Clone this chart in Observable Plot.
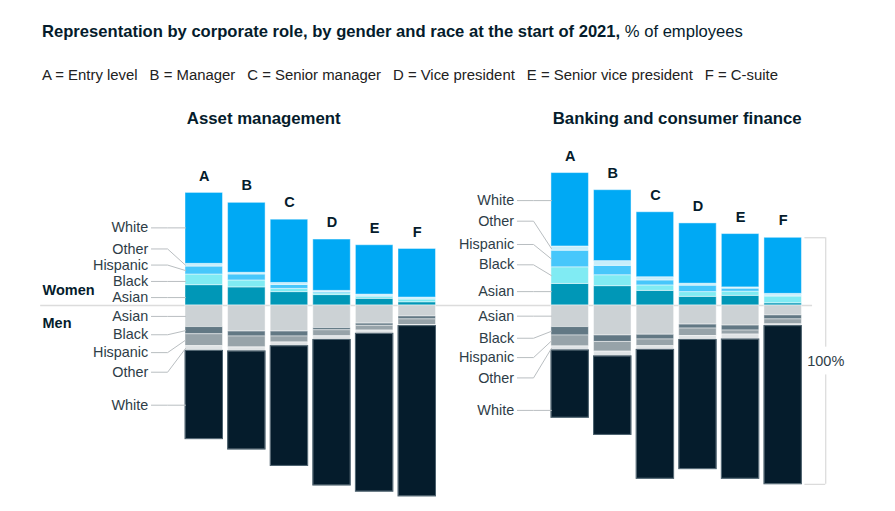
<!DOCTYPE html>
<html>
<head>
<meta charset="utf-8">
<script src="https://cdn.jsdelivr.net/npm/d3@7"></script>
<script src="https://cdn.jsdelivr.net/npm/@observablehq/plot@0.6"></script>
<style>
  html, body { margin: 0; padding: 0; background: #fff; }
  body { width: 895px; height: 511px; overflow: hidden; font-family: "Liberation Sans", Arial, sans-serif; color: #051c2c; }
  #header { position: relative; height: 95px; }
  #title { position: absolute; left: 42px; top: 21px; font-size: 16.6px; line-height: 22px; white-space: nowrap; color: #051c2c; }
  #title b { font-weight: 700; }
  #legend { position: absolute; left: 42px; top: 66px; font-size: 14.9px; line-height: 18px; white-space: nowrap; color: #222; }
  #legend span { margin-right: 12px; }
  #chart svg { display: block; }
</style>
</head>
<body>
<div id="header">
  <div id="title"><b>Representation by corporate role, by gender and race at the start of 2021,</b> % of employees</div>
  <div id="legend"></div>
</div>
<div id="chart"></div>
<script>
// ---------------- DATA ----------------
const roles = ["A", "B", "C", "D", "E", "F"];
const roleNames = ["Entry level", "Manager", "Senior manager", "Vice president", "Senior vice president", "C-suite"];
const industries = ["Asset management", "Banking and consumer finance"];
const genders = ["Women", "Men"];
const races = ["Asian", "Black", "Hispanic", "Other", "White"]; // from the baseline outward

// Asset management, % of employees (roles A–F)
const amWomenAsian    = [8.2, 7.3, 5.4, 4.2, 2.7, 1.3];
const amWomenBlack    = [4.3, 2.8, 1.3, 0.7, 0.8, 1.1];
const amWomenHispanic = [3.2, 2.4, 1.6, 0.5, 0.4, 0.3];
const amWomenOther    = [1.1, 0.7, 0.8, 0.5, 0.5, 0.5];
const amWomenWhite    = [28.6, 28.2, 25.5, 20.7, 19.9, 19.6];
const amMenAsian      = [8.7, 10.5, 10.5, 9.1, 7.3, 4.4];
const amMenBlack      = [2.9, 2.0, 2.0, 0.9, 0.9, 1.2];
const amMenHispanic   = [4.8, 4.4, 2.4, 2.4, 1.9, 2.3];
const amMenOther      = [1.9, 1.6, 1.5, 1.5, 1.3, 0.4];
const amMenWhite      = [35.6, 39.6, 48.3, 58.7, 63.7, 68.7];

// Banking and consumer finance, % of employees (roles A–F)
const bfWomenAsian    = [8.7, 7.8, 5.9, 3.5, 3.9, 0.9];
const bfWomenBlack    = [6.7, 4.4, 2.2, 1.9, 1.7, 2.7];
const bfWomenHispanic = [6.7, 3.8, 2.0, 2.6, 1.2, 0.3];
const bfWomenOther    = [1.7, 1.9, 1.3, 0.8, 0.5, 0.8];
const bfWomenWhite    = [29.6, 28.6, 26.2, 24.3, 21.5, 22.6];
const bfMenAsian      = [8.7, 12.1, 11.8, 7.7, 8.1, 4.0];
const bfMenBlack      = [3.4, 2.6, 1.9, 1.6, 2.0, 1.6];
const bfMenHispanic   = [4.4, 3.9, 2.7, 3.0, 1.6, 2.0];
const bfMenOther      = [1.6, 1.9, 1.5, 1.6, 2.0, 0.7];
const bfMenWhite      = [27.2, 31.7, 52.0, 52.1, 56.2, 63.8];

const series = {
  "Asset management": {
    Women: [amWomenAsian, amWomenBlack, amWomenHispanic, amWomenOther, amWomenWhite],
    Men:   [amMenAsian, amMenBlack, amMenHispanic, amMenOther, amMenWhite]
  },
  "Banking and consumer finance": {
    Women: [bfWomenAsian, bfWomenBlack, bfWomenHispanic, bfWomenOther, bfWomenWhite],
    Men:   [bfMenAsian, bfMenBlack, bfMenHispanic, bfMenOther, bfMenWhite]
  }
};

// ---------------- STYLE / LAYOUT ----------------
const colorKeys = [];
const colorRange = [];
const womenColors = ["#0097b7", "#80ebf3", "#47c7fb", "#c6eefb", "#00a9f4"];
const menColors   = ["#ccd2d5", "#627884", "#97a3a9", "#dfe3e5", "#051c2c"];
genders.forEach(g => races.forEach((r, i) => {
  colorKeys.push(g + " " + r);
  colorRange.push(g === "Women" ? womenColors[i] : menColors[i]);
}));

const step = 42.6;           // px per bar slot
const firstBarPx = 185;      // left edge of first bar
const pxPerPct = 2.48;
const baselinePx = 210;      // in SVG coords
const svgH = 416;
const barW = 0.88;           // bar width in slot units
const panelOffset = {"Asset management": 0, "Banking and consumer finance": 8.59};

// label anchor heights (% units) per industry / gender, in race order
const labelPos = {
  "Asset management": {Women: [3.2, 9.7, 16.3, 22.8, 31.3], Men: [-4.4, -11.8, -19.0, -26.9, -40.2]},
  "Banking and consumer finance": {Women: [5.6, 16.4, 24.6, 34.0, 42.3], Men: [-4.3, -13.2, -21.0, -29.2, -42.3]}
};

// ---------------- BUILD TABLES ----------------
const rows = [];
const totals = [];
industries.forEach(ind => {
  roles.forEach((role, ri) => {
    const pos = panelOffset[ind] + ri;
    const tot = {industry: ind, role, pos};
    genders.forEach(g => {
      const sign = g === "Women" ? 1 : -1;
      let cum = 0;
      races.forEach((race, k) => {
        const v = series[ind][g][k][ri];
        rows.push({industry: ind, role, gender: g, race, key: g + " " + race, value: v, pos,
                   y1: sign * cum, y2: sign * (cum + v)});
        cum += v;
      });
      tot[g] = cum;
    });
    totals.push(tot);
  });
});

const labelRows = [];
const leaderRows = [];
industries.forEach(ind => {
  const off = panelOffset[ind];
  genders.forEach(g => {
    races.forEach((race, k) => {
      const ly = labelPos[ind][g][k];
      const seg = rows.find(d => d.industry === ind && d.role === "A" && d.gender === g && d.race === race);
      const lo = Math.min(seg.y1, seg.y2), hi = Math.max(seg.y1, seg.y2);
      const ty = (ly >= lo && ly <= hi) ? ly : (lo + hi) / 2;
      const id = ind + g + race;
      labelRows.push({x: off - 0.875, y: ly, text: race});
      leaderRows.push({id, x: off - 0.80, y: ly});
      leaderRows.push({id, x: off - 0.42, y: ly});
      leaderRows.push({id, x: off, y: ty});
    });
  });
});

// 100% bracket on last bar of second panel
const lastTot = totals[totals.length - 1];
const bTop = lastTot.Women, bBot = -lastTot.Men, bMid = (bTop + bBot) / 2;
const bx1 = lastTot.pos + barW + 0.07, bx2 = lastTot.pos + barW + 0.56;

// legend
document.getElementById("legend").innerHTML = roles.map((r, i) => `<span>${r} = ${roleNames[i]}</span>`).join("");

const x0 = -firstBarPx / step, x1d = (895 - firstBarPx) / step;
const yTop = baselinePx / pxPerPct, yBot = -(svgH - baselinePx) / pxPerPct;

const chart = Plot.plot({
  width: 895,
  height: svgH,
  margin: 0,
  style: {fontFamily: "'Liberation Sans', Arial, sans-serif", background: "white", overflow: "visible"},
  x: {domain: [x0, x1d], axis: null},
  y: {domain: [yBot, yTop], axis: null},
  color: {domain: colorKeys, range: colorRange},
  marks: [
    Plot.ruleY([0], {x1: -3.40, x2: 14.72, stroke: "#dcdcdc", strokeWidth: 1.5}),
    Plot.rect(rows, {x1: "pos", x2: d => d.pos + barW, y1: "y1", y2: "y2", fill: "key",
                     stroke: "white", strokeOpacity: 0.45, strokeWidth: 1}),
    Plot.rect(rows.filter(d => d.gender === "Men" && d.race === "White"),
              {x1: "pos", x2: d => d.pos + barW, y1: "y1", y2: "y2", fill: "none", stroke: "#4a5f6c", strokeWidth: 1}),
    Plot.line(leaderRows, {x: "x", y: "y", z: "id", stroke: "#b9bec1", strokeWidth: 1, curve: "linear"}),
    Plot.text(labelRows, {x: "x", y: "y", text: "text", textAnchor: "end", fontSize: 14.4, fill: "#2e3d47"}),
    Plot.text(genders, {x: -3.357, y: d => d === "Women" ? 6.05 : -7.26, text: d => d, textAnchor: "start",
                        fontSize: 14.5, fontWeight: "bold", fill: "#051c2c"}),
    Plot.text(totals, {x: d => d.pos + barW / 2, y: "Women", text: "role", dy: -17, fontSize: 14.5, fontWeight: "bold", fill: "#051c2c"}),
    Plot.text(industries, {x: d => panelOffset[d] + 0.03, frameAnchor: "top", lineAnchor: "middle", dy: 23, text: d => d,
                           textAnchor: "start", fontSize: 16.8, fontWeight: "bold", fill: "#051c2c"}),
    Plot.ruleY([bTop, bBot], {x1: bx1, x2: bx2, stroke: "#d2d2d2", strokeWidth: 1}),
    Plot.ruleX([bx2], {y1: bTop, y2: bMid + 5.6, stroke: "#d2d2d2", strokeWidth: 1}),
    Plot.ruleX([bx2], {y1: bMid - 5.6, y2: bBot, stroke: "#d2d2d2", strokeWidth: 1}),
    Plot.text(["100%"], {x: bx2, y: bMid, text: d => d, fontSize: 14.5, fill: "#2e3d47"})
  ]
});
document.getElementById("chart").appendChild(chart);
</script>
</body>
</html>
